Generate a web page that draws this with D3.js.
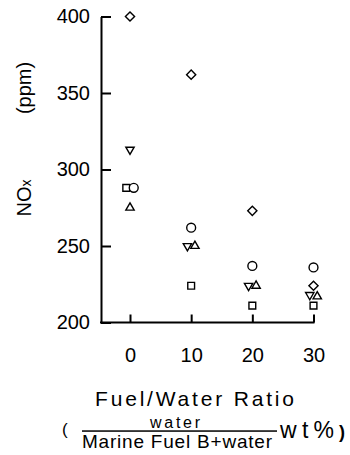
<!DOCTYPE html>
<html>
<head>
<meta charset="utf-8">
<script src="https://cdn.jsdelivr.net/npm/d3@7"></script>
<style>
  html, body { margin: 0; padding: 0; background: #fff; }
  svg { display: block; }
  text { font-family: "Liberation Sans", Arial, sans-serif; fill: #000; }
</style>
</head>
<body>
<svg id="chart" width="350" height="455"></svg>
<script>
// Water content of the emulsion (wt%)
const ratios = [0, 10, 20, 30];
const xTicks = [0, 10, 20, 30];
const yTicks = [200, 250, 300, 350, 400];

// NOx (ppm) for each engine condition, one array per marker
const diamondSeries  = [400, 362, 273, 224];
const invTriSeries   = [313, 250, 224, 218];
const squareSeries   = [288, 224, 211, 211];
const circleSeries   = [288, 262, 237, 236];
const triangleSeries = [275, 250, 224, 217];

const series = [
  { key: "diamond",  values: diamondSeries },
  { key: "invTri",   values: invTriSeries },
  { key: "square",   values: squareSeries },
  { key: "circle",   values: circleSeries },
  { key: "triangle", values: triangleSeries }
];

const svg = d3.select("#chart");
const axisX = 101, axisY = 322.5, lw = 2;

const xs = d3.scaleLinear().domain([0, 30]).range([130, 313.5]);
const ys = d3.scaleLinear().domain([200, 400]).range([axisY, 16.5]);

// Y axis: ticks point into the plot
const gy = svg.append("g")
  .attr("transform", `translate(${axisX},0)`)
  .call(d3.axisLeft(ys).tickValues(yTicks).tickSizeInner(-10).tickSizeOuter(0).tickPadding(11));
gy.selectAll("path, line").attr("stroke", "#000").attr("stroke-width", lw);
gy.selectAll("text").attr("font-size", 20).style("fill", "#000");

// X axis: ticks point up, rule runs back to the y axis
const gx = svg.append("g")
  .attr("transform", `translate(0,${axisY})`)
  .call(d3.axisBottom(xs).tickValues(xTicks).tickSizeInner(-8).tickSizeOuter(0).tickPadding(25));
gx.select(".domain").attr("d", `M${axisX - lw / 2},0H${xs(30) + lw / 2}`);
gx.selectAll("path, line").attr("stroke", "#000").attr("stroke-width", lw);
gx.selectAll("text").attr("font-size", 20).style("fill", "#000");

// Marker shapes
const shapes = {
  diamond:  { type: d3.symbolSquare,   size: 42, rotate: 45 },
  invTri:   { type: d3.symbolTriangle, size: 30, rotate: 180 },
  square:   { type: d3.symbolSquare,   size: 46, rotate: 0 },
  circle:   { type: d3.symbolCircle,   size: 62, rotate: 0 },
  triangle: { type: d3.symbolTriangle, size: 30, rotate: 0 }
};

// Flatten points, then spread markers that would overlap at one ratio
const points = [];
series.forEach((s, si) => {
  s.values.forEach((v, i) => {
    points.push({ key: s.key, order: si, ratio: ratios[i], value: v, px: xs(ratios[i]), py: ys(v) });
  });
});
ratios.forEach(r => {
  const grp = points.filter(p => p.ratio === r).sort((a, b) => a.py - b.py);
  const clusters = [];
  grp.forEach(p => {
    const last = clusters[clusters.length - 1];
    if (last && Math.abs(p.py - last[last.length - 1].py) < 5) last.push(p);
    else clusters.push([p]);
  });
  clusters.forEach(c => {
    c.sort((a, b) => a.order - b.order);
    c.forEach((p, i) => { p.px += (i - (c.length - 1) / 2) * 7.5; });
  });
});

svg.append("g").selectAll("path")
  .data(points)
  .join("path")
  .attr("d", d => d3.symbol().type(shapes[d.key].type).size(shapes[d.key].size)())
  .attr("transform", d => `translate(${d.px},${d.py}) rotate(${shapes[d.key].rotate})`)
  .attr("fill", "#fff")
  .attr("stroke", "#000")
  .attr("stroke-width", 1.4);

// Y title
const yt = svg.append("text")
  .attr("transform", "translate(31,198) rotate(-90)")
  .attr("text-anchor", "middle")
  .attr("font-size", 20);
yt.append("tspan").text("NO");
yt.append("tspan").attr("font-size", 14).text("x");

svg.append("text")
  .attr("transform", "translate(31,88) rotate(-90)")
  .attr("text-anchor", "middle")
  .attr("font-size", 20)
  .text("(ppm)");

// X title
svg.append("text")
  .attr("x", 95).attr("y", 406)
  .attr("font-size", 21)
  .attr("textLength", 199).attr("lengthAdjust", "spacing")
  .text("Fuel/Water Ratio");

svg.append("text")
  .attr("x", 62).attr("y", 435)
  .attr("font-size", 17)
  .text("(");

svg.append("text")
  .attr("x", 150).attr("y", 428)
  .attr("font-size", 16)
  .attr("textLength", 50).attr("lengthAdjust", "spacing")
  .text("water");

// Fraction bar
svg.append("rect")
  .attr("x", 82).attr("y", 430.3)
  .attr("width", 195).attr("height", 1.5)
  .attr("fill", "#000");

svg.append("text")
  .attr("x", 82).attr("y", 448)
  .attr("font-size", 19)
  .attr("textLength", 190).attr("lengthAdjust", "spacing")
  .text("Marine Fuel B+water");

svg.append("text")
  .attr("x", 280).attr("y", 438)
  .attr("font-size", 23)
  .attr("textLength", 54).attr("lengthAdjust", "spacing")
  .text("wt%");

svg.append("text")
  .attr("x", 339).attr("y", 438)
  .attr("font-size", 18)
  .attr("font-weight", "bold")
  .text(")");
</script>
</body>
</html>
